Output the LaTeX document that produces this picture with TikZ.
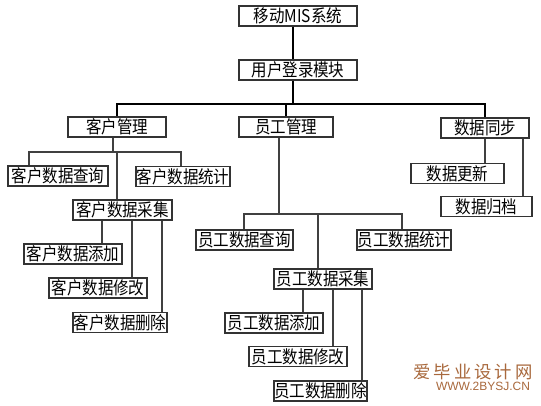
\documentclass[tikz,border=0pt]{standalone}
\usepackage{fontspec}
\setmainfont{Noto Sans CJK SC}
\newfontfamily\boxfont[FakeStretch=0.88]{Noto Sans CJK SC}
\newfontfamily\wmsans{Liberation Sans}
\definecolor{wmcol}{HTML}{A8683C}
\begin{document}
\begin{tikzpicture}[x=0.75pt,y=-0.75pt,
  box/.style={draw=black!80, line width=1pt, fill=white, inner sep=0pt,
    minimum height=20*0.75pt, minimum width=#1*0.75pt,
    font=\boxfont\fontsize{13.2pt}{13.5pt}\selectfont},
  conn/.style={draw=black, line width=0.8pt},
  conn2/.style={draw=black!75, line width=0.9pt}]
\useasboundingbox (0,0) rectangle (541,405);
% x positions of connectors
\foreach \xx in {29,102,113,117,132,162,181,244,279,293,303,318,333,362,402,485,523}
  \coordinate (x\xx) at (\xx,0);
\coordinate (busA) at (0,104);
\coordinate (busK) at (0,152);
\coordinate (busY) at (0,214);
% nodes
\node[box=118] (top) at (298,16) {移动MIS系统};
\node[box=118] (login) at (298,70) {用户登录模块};
\node[box=98] (kehu) at (117,127) {客户管理};
\node[box=94] (yuangong) at (286,127) {员工管理};
\node[box=88] (sync) at (485,128) {数据同步};
\node[box=100] (kq) at (58,176) {客户数据查询};
\node[box=94] (kt) at (183,176.5) {客户数据统计};
\node[box=99] (kc) at (122.5,210) {客户数据采集};
\node[box=98] (kadd) at (73,254) {客户数据添加};
\node[box=98] (kmod) at (98,288) {客户数据修改};
\node[box=94] (kdel) at (120,322.5) {客户数据删除};
\node[box=97] (yq) at (244.5,240) {员工数据查询};
\node[box=94] (yt) at (404,240) {员工数据统计};
\node[box=98] (yc) at (323,279) {员工数据采集};
\node[box=98] (yadd) at (274,323) {员工数据添加};
\node[box=98] (ymod) at (298,356.5) {员工数据修改};
\node[box=93] (ydel) at (320.5,391) {员工数据删除};
\node[box=93] (update) at (457.5,173.5) {数据更新};
\node[box=91] (archive) at (486.5,206.5) {数据归档};
% connectors
\draw[conn] (top.south -| x293) -- (login.north -| x293);
\draw[conn] (login.south -| x293) -- (x293 |- busA);
\draw[conn] (kehu.north) -- (kehu.north |- busA) -| (sync.north);
\draw[conn] (yuangong.north) -- (yuangong.north |- busA);
% customer branch
\draw[conn2] (kehu.south -| x113) -- (x113 |- busK);
\draw[conn2] (kq.north -| x29) -- (x29 |- busK) -- (x181 |- busK) -- (kt.north -| x181);
\draw[conn2] (x117 |- busK) -- (kc.north -| x117);
\draw[conn2] (kc.south -| x102) -- (kadd.north -| x102);
\draw[conn2] (kc.south -| x132) -- (kmod.north -| x132);
\draw[conn2] (kc.south -| x162) -- (kdel.north -| x162);
% staff branch
\draw[conn2] (yuangong.south -| x279) -- (x279 |- busY);
\draw[conn2] (yq.north -| x244) -- (x244 |- busY) -- (x402 |- busY) -- (yt.north -| x402);
\draw[conn2] (x318 |- busY) -- (yc.north -| x318);
\draw[conn2] (yc.south -| x303) -- (yadd.north -| x303);
\draw[conn2] (yc.south -| x333) -- (ymod.north -| x333);
\draw[conn2] (yc.south -| x362) -- (ydel.north -| x362);
% sync branch
\draw[conn2] (sync.south -| x485) -- (update.north -| x485);
\draw[conn2] (sync.south -| x523) -- (archive.north -| x523);
% watermark
\node[text=wmcol, inner sep=0pt, font=\fontsize{13pt}{13pt}\selectfont] (wm1) at (473,372)
  {爱\hspace{2.2pt}毕\hspace{2.2pt}业\hspace{2.2pt}设\hspace{2.2pt}计\hspace{2.2pt}网};
\node[text=wmcol, inner sep=0pt, font=\wmsans\fontsize{9pt}{9pt}\selectfont] (wm2) at (483,386.5)
  {WWW.2BYSJ.CN};
\end{tikzpicture}
\end{document}
